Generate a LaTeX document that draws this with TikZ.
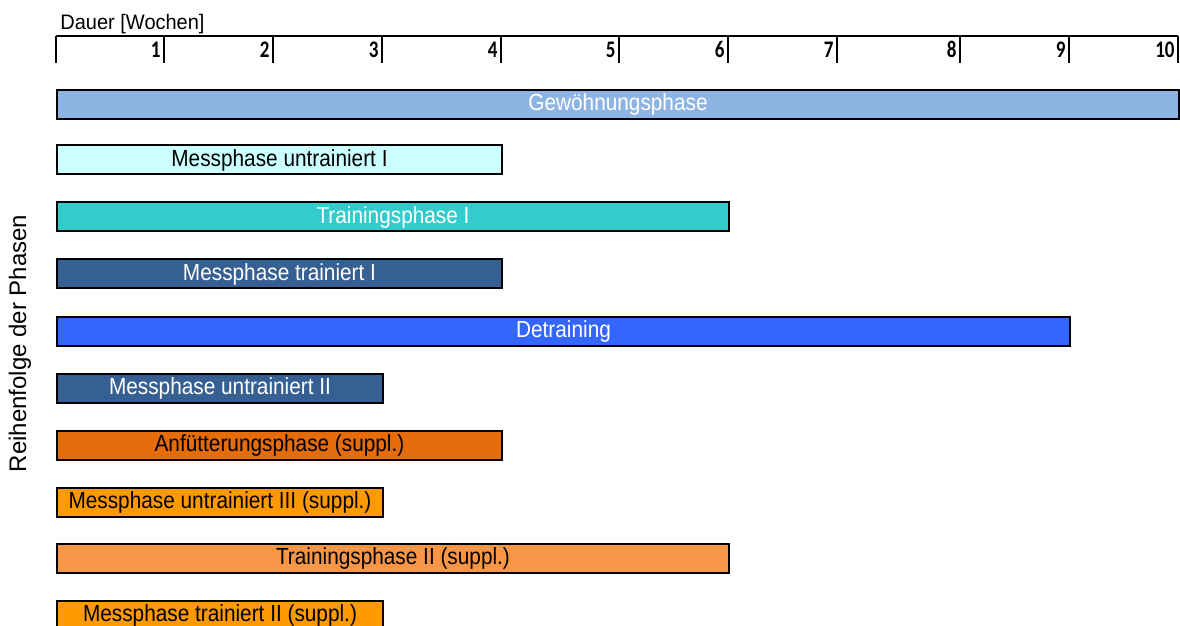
\documentclass[tikz,border=0pt]{standalone}
\usepackage{graphicx}
\usepackage{fontspec}
\setmainfont{Liberation Sans}
\newfontfamily\tickfont{Carlito}
\newcommand{\vstretch}[2]{\scalebox{1}[#1]{#2}}
\definecolor{cgew}{HTML}{8EB4E3}
\definecolor{cmuI}{HTML}{CCFFFF}
\definecolor{ctrI}{HTML}{33CCCC}
\definecolor{cmt}{HTML}{376092}
\definecolor{cdet}{HTML}{3366FF}
\definecolor{canf}{HTML}{E46C0A}
\definecolor{corg}{HTML}{FF9900}
\definecolor{ctrII}{HTML}{F79646}
\tikzset{
  bar/.style={draw=black, line width=1pt, anchor=west, minimum height=14.5pt,
    inner sep=0pt, font=\fontsize{10.4}{12}\selectfont},
  axisline/.style={draw=black, line width=1pt},
  ticklabel/.style={anchor=base east, inner sep=0pt, font=\tickfont\bfseries\fontsize{9.5}{11}\selectfont},
}
\begin{document}
\begin{tikzpicture}[x=0.5pt,y=-0.5pt]
\clip (0,0) rectangle (1180,626);
\fill[white] (0,0) rectangle (1180,626);
% axis
\node[anchor=base west, inner sep=0pt, font=\fontsize{10}{12}\selectfont] (dauer) at (60,30) {\vstretch{1.05}{Dauer [Wochen]}};
\coordinate (a0) at (56,36);
\coordinate (a10) at (1178,36);
\draw[axisline] (a0) -- (a10);
\draw[axisline] (56,36) -- (56,63);
\foreach \x/\l in {164/1,273/2,382/3,501/4,619/5,728/6,837/7,960/8,1069/9,1178/10}{
  \draw[axisline] (\x,36) -- (\x,63);
  \node[ticklabel] (t\l) at (\x-3,57.5) {\vstretch{1.25}{\l}};
}
% y label
\node[rotate=90, font=\fontsize{12}{14}\selectfont, inner sep=0pt] (ylab) at (20,343.5) {Reihenfolge der Phasen};
% bars
\node[bar, fill=cgew, text=white, minimum width=561pt] (gew) at (56,104.5) {\vstretch{1.12}{Gewöhnungsphase}};
\node[bar, fill=cmuI, text=black, minimum width=222.5pt] (muI) at (56,160) {\vstretch{1.12}{Messphase untrainiert I}};
\node[bar, fill=ctrI, text=white, minimum width=336pt] (trI) at (56,217) {\vstretch{1.12}{Trainingsphase I}};
\node[bar, fill=cmt, text=white, minimum width=222.5pt] (mtI) at (56,274) {\vstretch{1.12}{Messphase trainiert I}};
\node[bar, fill=cdet, text=white, minimum width=506.5pt] (det) at (56,331.5) {\vstretch{1.12}{Detraining}};
\node[bar, fill=cmt, text=white, minimum width=163pt] (muII) at (56,388) {\vstretch{1.12}{Messphase untrainiert II}};
\node[bar, fill=canf, text=black, minimum width=222.5pt] (anf) at (56,445) {\vstretch{1.12}{Anfütterungsphase (suppl.)}};
\node[bar, fill=corg, text=black, minimum width=163pt] (muIII) at (56,502) {\vstretch{1.12}{Messphase untrainiert III (suppl.)}};
\node[bar, fill=ctrII, text=black, minimum width=336pt] (trII) at (56,558) {\vstretch{1.12}{Trainingsphase II (suppl.)}};
\node[bar, fill=corg, text=black, minimum width=163pt] (mtII) at (56,615) {\vstretch{1.12}{Messphase trainiert II (suppl.)}};
\end{tikzpicture}
\end{document}
